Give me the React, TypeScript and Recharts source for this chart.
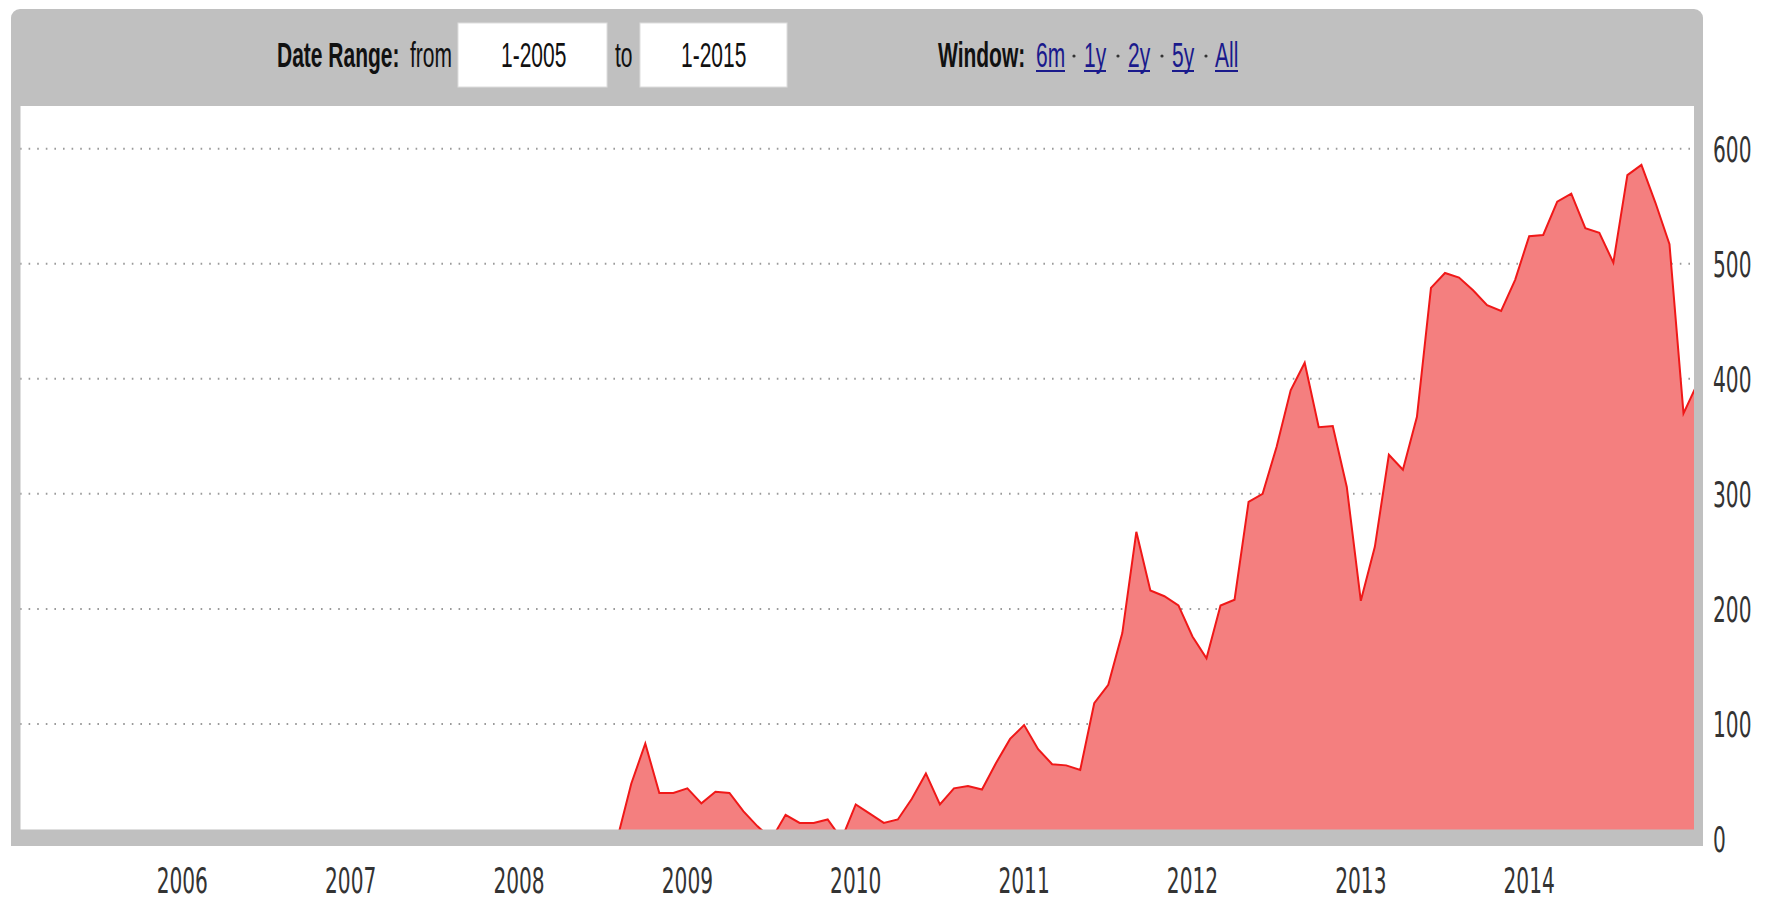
import { Area, AreaChart, CartesianGrid, XAxis, YAxis } from 'recharts';

// monthly values, Jan..Dec
const v2005 = [0, 0, 0, 0, 0, 0, 0, 0, 0, 0, 0, 0];
const v2006 = [0, 0, 0, 0, 0, 0, 0, 0, 0, 0, 0, 0];
const v2007 = [0, 0, 0, 0, 0, 0, 0, 0, 0, 0, 0, 0];
const v2008 = [0, 0, 0, 0, 0, 0, 0, 0, 48, 83, 40, 40];
const v2009 = [44, 31, 41, 40, 24, 11, 0, 21, 14, 14, 17, 0];
const v2010 = [30, 22, 14, 17, 35, 57, 30, 44, 46, 43, 66, 87];
const v2011 = [99, 78, 65, 64, 60, 118, 134, 179, 267, 216, 211, 203];
const v2012 = [176, 157, 203, 208, 293, 300, 341, 390, 414, 358, 359, 306];
const v2013 = [207, 254, 334, 321, 367, 479, 492, 488, 477, 464, 459, 486];
const v2014 = [524, 525, 554, 561, 531, 527, 501, 577, 586, 553, 517, 370];
const v2015 = [396];

const startYear = 2005;
const yearTicks = [2006, 2007, 2008, 2009, 2010, 2011, 2012, 2013, 2014];
const valueTicks = [0, 100, 200, 300, 400, 500, 600];
const windowLinks = ['6m', '1y', '2y', '5y', 'All'];

const data = [v2005, v2006, v2007, v2008, v2009, v2010, v2011, v2012, v2013, v2014, v2015]
    .flat()
    .map((v, i) => ({ t: startYear + i / 12, v }));

const PANEL = '#c0c0c0';
// the whole picture is squeezed sideways, so every text is narrowed
const TICK_SQUEEZE = 0.56;
const HDR_SQUEEZE = 0.6;

const YearTick = ({ x, y, payload }: any) => (
    <text
        transform={`translate(${x},${y + 46}) scale(${TICK_SQUEEZE},1)`}
        textAnchor="middle"
        fontFamily="DejaVu Sans"
        fontSize={36}
        fill="#333"
    >
        {payload.value}
    </text>
);

const ValueTick = ({ x, y, payload }: any) => (
    <text
        transform={`translate(${x + 11},${y + 13}) scale(${TICK_SQUEEZE},1)`}
        textAnchor="start"
        fontFamily="DejaVu Sans"
        fontSize={36}
        fill="#333"
    >
        {payload.value}
    </text>
);

const HText = ({ x, bold, color, children }: any) => (
    <text
        transform={`translate(${x},67) scale(${HDR_SQUEEZE},1)`}
        fontFamily="Liberation Sans, Arial, sans-serif"
        fontSize={35}
        fontWeight={bold ? 'bold' : 'normal'}
        fill={color || '#111'}
    >
        {children}
    </text>
);

const Frame = () => {
    const linkX = [1036, 1084, 1128, 1172, 1215];
    const linkW = [29, 22, 22, 22, 23];
    const dotX = [1074, 1118, 1162, 1206];
    return (
        <svg
            width={1773}
            height={902}
            style={{ position: 'absolute', left: 0, top: 0, pointerEvents: 'none' }}
        >
            <rect x={11} y={9} width={1692} height={97} rx={9} fill={PANEL} />
            <rect x={11} y={96} width={9.5} height={750} fill={PANEL} />
            <rect x={1694} y={96} width={9} height={750} fill={PANEL} />
            <rect x={11} y={829.5} width={1692} height={16.5} rx={3} fill={PANEL} />

            <HText x={277} bold>Date Range:</HText>
            <HText x={410}>from</HText>
            <rect x={458} y={23} width={149} height={64} fill="#fff" stroke="#ddd" />
            <HText x={501}>1-2005</HText>
            <HText x={615}>to</HText>
            <rect x={640} y={23} width={147} height={64} fill="#fff" stroke="#ddd" />
            <HText x={681}>1-2015</HText>

            <HText x={938} bold>Window:</HText>
            {windowLinks.map((l, i) => (
                <g key={l}>
                    <HText x={linkX[i]} color="#1a1a8c">{l}</HText>
                    <line x1={linkX[i]} x2={linkX[i] + linkW[i]} y1={71} y2={71} stroke="#1a1a8c" strokeWidth={2} />
                </g>
            ))}
            {dotX.map((x) => (
                <circle key={x} cx={x} cy={56} r={1.6} fill="#333" />
            ))}
        </svg>
    );
};

export default function App() {
    return (
        <div style={{ position: 'absolute', left: 0, top: 0, width: 1773, height: 902, background: '#fff' }}>
            <div style={{ position: 'absolute', left: 0, top: 0 }}>
                <AreaChart width={1773} height={902} data={data} margin={{ top: 105, right: 0, bottom: 0, left: 20 }}>
                    <CartesianGrid vertical={false} stroke="#9a9a9a" strokeWidth={2} strokeDasharray="1.6 7" />
                    <XAxis
                        dataKey="t"
                        type="number"
                        domain={[2005.036, 2014.979]}
                        allowDataOverflow
                        ticks={yearTicks}
                        axisLine={false}
                        tickLine={false}
                        height={63}
                        tick={<YearTick />}
                    />
                    <YAxis
                        orientation="right"
                        type="number"
                        domain={[0, 638]}
                        allowDataOverflow
                        ticks={valueTicks}
                        axisLine={false}
                        tickLine={false}
                        width={79}
                        tick={<ValueTick />}
                    />
                    <Area
                        type="linear"
                        dataKey="v"
                        stroke="#f01818"
                        strokeWidth={2}
                        fill="#f47f7f"
                        fillOpacity={1}
                        dot={false}
                        activeDot={false}
                        isAnimationActive={false}
                    />
                </AreaChart>
            </div>
            <Frame />
        </div>
    );
}
